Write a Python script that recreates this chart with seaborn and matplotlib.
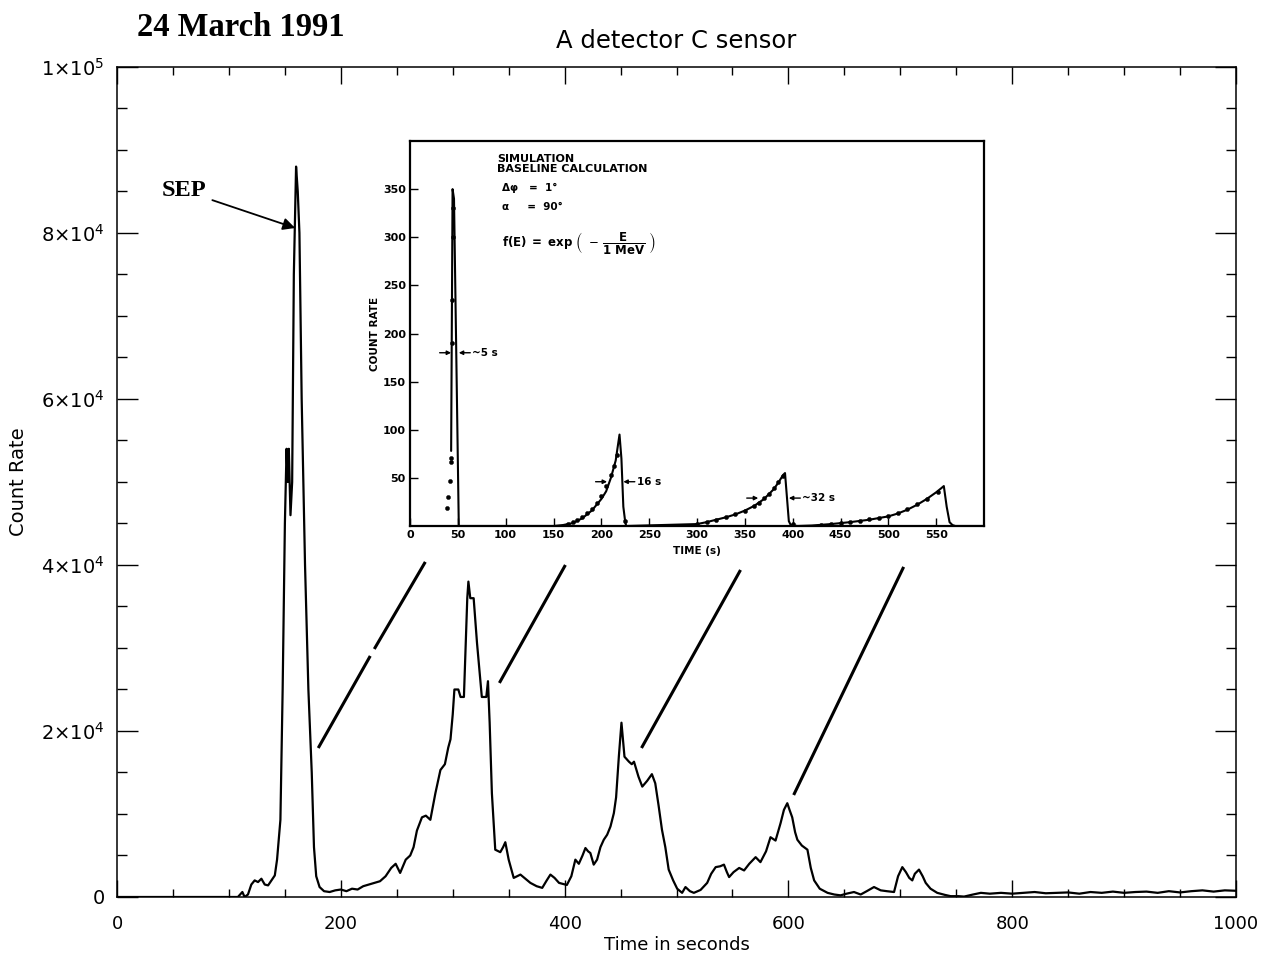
import numpy as np
import pandas as pd
import matplotlib
matplotlib.use("Agg")
import matplotlib.pyplot as plt
import seaborn as sns
from matplotlib.ticker import MultipleLocator, FixedLocator, FixedFormatter

# ---------------- main trace ----------------
time_s = [0, 50, 100, 108, 112, 114, 117, 120, 123, 126, 129, 132, 135, 138, 141, 143, 146, 148, 150,
          151.5, 152.5, 153.5, 155, 156.5, 158, 160, 161.5, 163, 165, 168, 171, 174, 176, 178, 181,
          185, 190, 195, 200, 205, 210, 215, 220, 225, 230, 235, 240, 245, 249, 253, 258, 262, 265,
          268, 272.5, 276, 280, 284.5, 289, 293, 296, 298, 300, 301.5, 305, 307, 310, 311.3, 313,
          314, 315.7, 318.7, 321.7, 326, 330, 331.5, 333, 335, 338, 342.5, 345, 347, 350, 354.5,
          360.5, 365, 369.4, 375, 380, 384, 387.3, 391, 395, 402, 406, 409.6, 412.7, 416, 418.6,
          421, 423, 426, 429, 432, 435, 438, 441, 444, 446, 448.5, 450.8, 453.5, 457.5, 460, 462,
          466, 469.4, 473.8, 478, 481, 484, 487, 490, 493, 497, 500.6, 505, 508, 512, 515.5, 521.5,
          527.4, 531, 535, 539, 542.4, 545, 547, 551, 556, 560.4, 565, 570.7, 575, 580, 584, 588.5,
          593, 596, 599, 601, 603.4, 606, 608, 612, 617, 620, 623, 628, 635, 641, 646.6, 652, 658.6,
          664.6, 670, 676.5, 682.5, 688, 694.4, 698, 701.8, 705, 708, 710.7, 713, 716.7, 720, 722.7,
          727, 733, 740, 745, 752, 757, 765, 772, 780, 790, 800, 810, 820, 830, 840, 850, 860, 870,
          880, 890, 900, 910, 920, 930, 940, 950, 960, 970, 980, 990, 1000]
count_rate = [0, 0, 0, 0, 600, 0, 300, 1500, 2000, 1800, 2200, 1500, 1400, 2000, 2600, 4500, 9300,
              25000, 45000, 54000, 50000, 54000, 46000, 50000, 75000, 88000, 85000, 80000, 60000,
              40000, 25000, 15000, 6000, 2500, 1200, 700, 600, 800, 900, 700, 1000, 900, 1300, 1500,
              1700, 1900, 2500, 3500, 4000, 2900, 4500, 5000, 6000, 8000, 9600, 9800, 9300, 12500,
              15300, 16000, 18000, 19000, 22000, 25000, 25000, 24100, 24100, 29400, 36000, 38000,
              36000, 36000, 30600, 24100, 24100, 26000, 21000, 12500, 5700, 5400, 6000, 6600, 4500,
              2300, 2700, 2200, 1700, 1300, 1100, 2000, 2700, 2300, 1700, 1450, 2500, 4500, 4000, 5000,
              5900, 5500, 5300, 3900, 4500, 6000, 6900, 7500, 8500, 10100, 12000, 17000, 21000,
              16900, 16300, 16000, 16300, 14500, 13300, 14000, 14800, 13700, 11000, 8100, 6000,
              3300, 2000, 1000, 500, 1200, 700, 500, 850, 1700, 2800, 3600, 3700, 3900, 3000, 2400,
              3000, 3500, 3200, 4000, 4800, 4200, 5500, 7200, 6800, 8900, 10500, 11300, 10500, 9600,
              7800, 6900, 6200, 5700, 3500, 2000, 1000, 500, 300, 200, 400, 600, 300, 700, 1200, 800,
              700, 600, 2500, 3600, 3000, 2300, 2000, 2800, 3300, 2500, 1700, 1000, 500, 250, 100,
              100, 50, 300, 500, 400, 500, 400, 500, 600, 450, 500, 550, 400, 600, 500, 650, 500, 600,
              650, 500, 700, 550, 700, 800, 650, 800, 750]

x_ticks = [0, 200, 400, 600, 800, 1000]
x_tick_labels = ["0", "200", "400", "600", "800", "1000"]
y_ticks = [0, 20000, 40000, 60000, 80000, 100000]
y_tick_labels = ["0", r"$2{\times}10^{4}$", r"$4{\times}10^{4}$", r"$6{\times}10^{4}$",
                 r"$8{\times}10^{4}$", r"$1{\times}10^{5}$"]

# connector lines from main peaks to the simulation inset (time, count) endpoints
connector_t0 = [179.8, 229.9, 341.7, 468.7, 604.7]
connector_v0 = [17950, 29880, 25790, 17950, 12290]
connector_t1 = [226.3, 275.5, 400.7, 557.2, 703.0]
connector_v1 = [29040, 40370, 40000, 39400, 39770]

# ---------------- inset: simulation ----------------
sim_t = [43, 44.5, 46, 51,
         51, 52, 150, 160, 170, 180, 190, 200, 205, 210, 215, 219, 221, 223,
         225, 226, 300, 310, 320, 330, 340, 350, 360, 370, 380, 385, 390, 392, 394, 396, 398, 405,
         420, 440, 460, 480, 500, 510, 520, 530, 540, 550, 555, 558, 561, 564, 567, 570, 600]
sim_rate = [78, 350, 340, 0,
            0, 0, 0, 1, 3, 8, 16, 28, 36, 50, 68, 95, 70, 20, 4, 0, 2, 4, 6.5, 9,
            12, 16, 21, 28, 38, 45, 53, 55, 30, 5, 1, 0, 0.5, 2, 4, 6.5, 10, 13, 17, 22, 28, 35, 39,
            41.5, 20, 4, 1, 0, 0]
sim_segment = [0] * 4 + [1] * 49
dot_t = [39, 40, 41.3, 42.7, 43, 44, 44.2, 44.5, 44.6,
         165, 170, 175, 180, 185, 190, 195, 200, 205, 210, 213, 216, 225,
         300, 310, 320, 330, 340, 350, 360, 365, 370, 375, 380, 385, 390, 400,
         430, 440, 450, 460, 470, 480, 490, 500, 510, 520, 530, 540, 552]
dot_rate = [19, 30, 47, 66, 71, 190, 235, 300, 330,
            2, 4, 6, 9, 13, 18, 24, 31, 42, 53, 62, 74, 5,
            2, 4, 6, 9, 12, 16, 21, 24, 29, 33, 39, 46, 52, 2,
            1.5, 2.5, 3.5, 4.5, 5.5, 7, 8.5, 10.5, 13.5, 18, 23, 28, 35]
inset_x_ticks = [0, 50, 100, 150, 200, 250, 300, 350, 400, 450, 500, 550]
inset_y_ticks = [50, 100, 150, 200, 250, 300, 350]

# width annotations: (left arrow tip, right arrow tip, level, label)
width_left = [43, 206, 364]
width_right = [51, 223, 396]
width_level = [180, 46, 29]
width_label = ["~5 s", "16 s", "~32 s"]

# ---------------- style ----------------
sns.set_theme(style="ticks")
plt.rcParams["font.family"] = ["DejaVu Sans"]
plt.rcParams["mathtext.fontset"] = "dejavusans"
for key in ["text.color", "axes.labelcolor", "xtick.color", "ytick.color", "axes.edgecolor"]:
    plt.rcParams[key] = "black"

fig = plt.figure(figsize=(12.75, 9.61), dpi=100)
fig.patch.set_facecolor("white")
ax = fig.add_axes([0.0918, 0.0666, 0.8776, 0.8637])
ax.set_facecolor("white")

main_df = pd.DataFrame({"t": time_s, "c": count_rate})
sns.lineplot(data=main_df, x="t", y="c", ax=ax, color="black", linewidth=1.6, estimator=None,
             sort=False)

ax.set_xlim(0, 1000)
ax.set_ylim(0, 100000)
ax.xaxis.set_major_locator(FixedLocator(x_ticks))
ax.xaxis.set_major_formatter(FixedFormatter(x_tick_labels))
ax.yaxis.set_major_locator(FixedLocator(y_ticks))
ax.yaxis.set_major_formatter(FixedFormatter(y_tick_labels))
ax.xaxis.set_minor_locator(MultipleLocator(50))
ax.yaxis.set_minor_locator(MultipleLocator(5000))
ax.tick_params(which="both", direction="in", top=True, right=True, color="black", width=1.0,
               labelcolor="black")
ax.tick_params(axis="x", which="major", length=12, pad=13, labelsize=13)
ax.tick_params(axis="x", which="minor", length=6)
ax.tick_params(axis="y", which="major", length=15, pad=9, labelsize=14)
ax.tick_params(axis="y", which="minor", length=7.5)
for s in ax.spines.values():
    s.set_linewidth(1.1)
    s.set_color("black")
ax.set_xlabel("Time in seconds", fontsize=13, labelpad=2, color="black")
ax.set_ylabel("Count Rate", fontsize=14, labelpad=9, color="black")

fig.text(676 / 1275, 1 - 41 / 961, "A detector C sensor", ha="center", va="center", fontsize=17.5,
         color="black")
fig.text(137 / 1275, 1 - 28 / 961, "24 March 1991", ha="left", va="center", fontsize=23.5,
         fontweight="bold", family="Liberation Serif", color="black")

ax.annotate("SEP", xy=(159.2, 80600), xytext=(40, 85100), fontsize=17.5, fontweight="bold",
            family="Liberation Serif", ha="left", va="center", color="black",
            arrowprops=dict(arrowstyle="-|>", color="black", lw=1.3, mutation_scale=18,
                            shrinkA=2, shrinkB=0))

for t0, v0, t1, v1 in zip(connector_t0, connector_v0, connector_t1, connector_v1):
    ax.plot([t0, t1], [v0, v1], color="black", linewidth=2.2, solid_capstyle="butt")

# ---------------- inset ----------------
axi = fig.add_axes([410 / 1275, (961 - 526) / 961, 574 / 1275, 385 / 961])
axi.set_facecolor("white")
axi.set_zorder(3)
sim_df = pd.DataFrame({"t": sim_t, "r": sim_rate, "seg": sim_segment})
sns.lineplot(data=sim_df, x="t", y="r", units="seg", ax=axi, color="black", linewidth=1.5,
             estimator=None, sort=False)
dot_df = pd.DataFrame({"t": dot_t, "r": dot_rate})
sns.scatterplot(data=dot_df, x="t", y="r", ax=axi, color="black", s=9, marker="o",
                edgecolor="black", linewidth=0.3)
axi.set_xlim(0, 600)
axi.set_ylim(0, 400)
axi.set_xticks(inset_x_ticks)
axi.set_yticks(inset_y_ticks)
axi.tick_params(which="both", direction="in", length=6, width=1.0, labelsize=8, pad=3,
                color="black", labelcolor="black")
for lab in axi.get_xticklabels() + axi.get_yticklabels():
    lab.set_fontweight("bold")
for s in axi.spines.values():
    s.set_linewidth(1.6)
    s.set_color("black")
axi.set_xlabel("TIME (s)", fontsize=7.5, fontweight="bold", labelpad=4, color="black")
axi.set_ylabel("COUNT RATE", fontsize=7.5, fontweight="bold", labelpad=2, color="black")

axi.text(0.152, 0.965, "SIMULATION\nBASELINE CALCULATION", transform=axi.transAxes,
         fontsize=8, fontweight="bold", ha="left", va="top", linespacing=1.0, color="black")
axi.text(0.160, 0.878, "Δφ   =  1°", transform=axi.transAxes, fontsize=7.5, fontweight="bold",
         ha="left", va="center", color="black")
axi.text(0.160, 0.829, "α     =  90°", transform=axi.transAxes, fontsize=7.5, fontweight="bold",
         ha="left", va="center", color="black")
axi.text(0.160, 0.735,
         r"$\mathbf{f(E)\ =\ exp}\ \left(\ -\,\dfrac{\mathbf{E}}{\mathbf{1\ MeV}}\ \right)$",
         transform=axi.transAxes, fontsize=8.5, ha="left", va="center", color="black")

for xl, xr, lvl, lab in zip(width_left, width_right, width_level, width_label):
    span = 12
    axi.annotate("", xy=(xl, lvl), xytext=(xl - span, lvl),
                 arrowprops=dict(arrowstyle="-|>", color="black", lw=1.0, mutation_scale=6,
                                 shrinkA=0, shrinkB=0))
    axi.annotate("", xy=(xr, lvl), xytext=(xr + span, lvl),
                 arrowprops=dict(arrowstyle="-|>", color="black", lw=1.0, mutation_scale=6,
                                 shrinkA=0, shrinkB=0))
    axi.text(xr + span + 2, lvl, lab, fontsize=7.5, fontweight="bold", ha="left", va="center",
             color="black")

fig.savefig("out.png", dpi=100, facecolor="white")
